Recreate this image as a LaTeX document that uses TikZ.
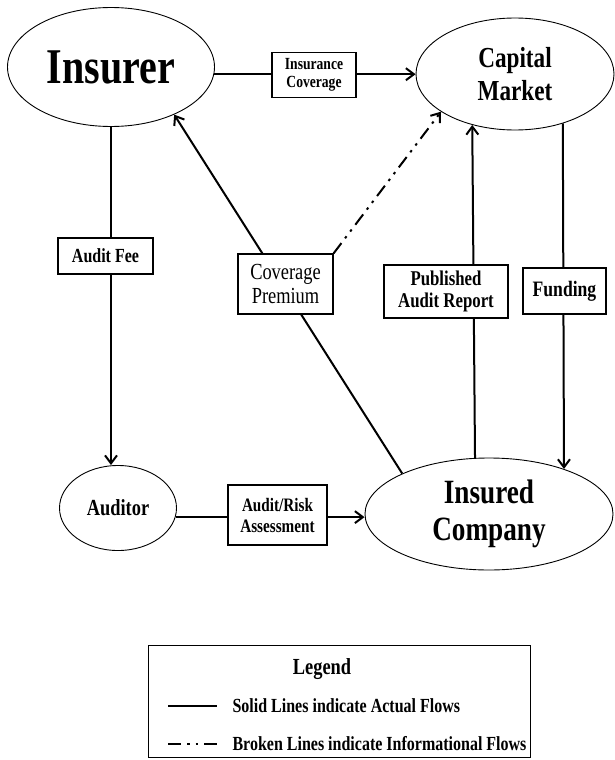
\documentclass[tikz,border=0pt]{standalone}
\usepackage{fontspec}
\setmainfont{Liberation Serif}[FakeStretch=0.8]
\usetikzlibrary{arrows.meta,shapes.geometric,backgrounds}

\newcommand{\fs}[2]{\fontsize{#1}{#2}\selectfont}

\begin{document}
\begin{tikzpicture}[x=1pt,y=-1pt,
  party/.style={draw,ellipse,inner sep=0pt,line width=0.9pt,align=center},
  lbl/.style={draw,fill=white,rectangle,inner sep=0pt,align=center,line width=1.1pt},
  flow/.style={line width=2pt},
  info/.style={line width=2pt,dash pattern=on 13pt off 6pt on 2.5pt off 6pt on 2.5pt off 6pt},
  arr/.style={-{Straight Barb[length=8pt,width=12pt]}}]
  \useasboundingbox (0,0) rectangle (615,760);

  % the parties
  \node[party,minimum width=207pt,minimum height=119pt,font=\bfseries\fs{50}{54}] (insurer) at (111,67) {Insurer};
  \node[party,minimum width=198pt,minimum height=112pt,font=\bfseries\fs{29}{33}] (capital) at (515,74) {Capital\\Market};
  \node[party,minimum width=117pt,minimum height=85pt,font=\bfseries\fs{23}{26}] (auditor) at (118,508) {Auditor};
  \node[party,minimum width=248pt,minimum height=112pt,font=\bfseries\fs{34}{37}] (insured) at (489,514) {Insured\\Company};

  % flow labels
  \node[lbl,minimum width=84pt,minimum height=45pt,font=\bfseries\fs{17}{18}] (cover) at (314,75) {Insurance\\Coverage};
  \node[lbl,minimum width=95pt,minimum height=36pt,font=\bfseries\fs{20}{22}] (fee) at (105.5,256) {Audit Fee};
  \node[lbl,minimum width=95pt,minimum height=60pt,font=\fs{23}{24}] (premium) at (285.5,284) {Coverage\\Premium};
  \node[lbl,minimum width=124pt,minimum height=53pt,font=\bfseries\fs{21}{22}] (report) at (446,291.5) {Published\\Audit Report};
  \node[lbl,minimum width=83pt,minimum height=46pt,font=\bfseries\fs{22}{24}] (funding) at (564.5,291) {Funding};
  \node[lbl,minimum width=99pt,minimum height=60pt,font=\bfseries\fs{19}{21}] (assess) at (277.5,515) {Audit/Risk\\Assessment};

  % connectors behind the labels
  \begin{scope}[on background layer]
    \draw[flow,arr] (insurer.-4) -- (insurer.-4 -| capital.west);
    \draw[flow,arr] (insurer.south) -- (insurer.south |- auditor.north);
    \draw[flow,arr] (insured.155) -- (insurer.-37);
    \draw[info,arr] (premium.north east) -- (capital.207);
    \draw[flow,arr] (insured.104) -- (capital.230);
    \draw[flow,arr] (capital.314) -- (insured.31);
    \draw[flow,arr] (auditor.-9) -- (auditor.-9 -| insured.west);
  \end{scope}

  % legend
  \node[draw,line width=1.1pt,anchor=north west,minimum width=382pt,minimum height=112pt,inner sep=0pt] (legend) at (148,645) {};
  \node[font=\bfseries\fs{23}{26}] (legtitle) at (322,669) {Legend};
  \coordinate (sa) at (168,706);
  \coordinate (sb) at (217,706);
  \coordinate (ba) at (168,744);
  \coordinate (bb) at (217,744);
  \draw[flow] (sa) -- (sb);
  \draw[info] (ba) -- (bb);
  \node[anchor=west,font=\bfseries\fs{20}{22}] (legsolid) at (229,706) {Solid Lines indicate Actual Flows};
  \node[anchor=west,font=\bfseries\fs{20}{22}] (legbroken) at (229,744) {Broken Lines indicate Informational Flows};
\end{tikzpicture}
\end{document}
